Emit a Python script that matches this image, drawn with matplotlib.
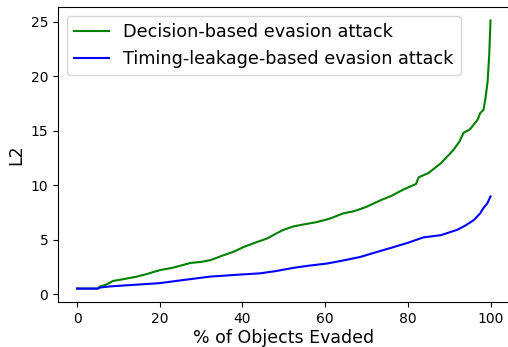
import numpy as np
import matplotlib
matplotlib.use("Agg")
import matplotlib.pyplot as plt

# percentage of objects evaded vs. L2 perturbation
decision_x = [0, 5, 5.6, 7, 8.7, 11, 14.5, 17, 20.1, 23, 25, 27.4, 30, 32.2, 35, 38, 40.2, 43, 46,
              48.4, 50, 52.3, 55, 58, 61, 64.4, 67, 70, 73.4, 76, 79, 82, 82.6, 85, 88, 90,
              91, 92.5, 93.5, 95, 96.9, 97.5, 98.3, 98.8, 99.3, 99.7, 100]
decision_l2 = [0.5, 0.5, 0.7, 0.85, 1.2, 1.35, 1.6, 1.85, 2.2, 2.4, 2.6, 2.85, 2.95, 3.1, 3.5, 3.9,
               4.3, 4.7, 5.1, 5.6, 5.9, 6.2, 6.4, 6.6, 6.9, 7.4, 7.6, 8.0, 8.6, 9.0, 9.6, 10.1,
               10.7, 11.1, 12.0, 12.8, 13.2, 14.0, 14.8, 15.1, 16.0, 16.6, 16.9, 18.0, 19.5, 22.0, 25.1]

timing_x = [0, 5, 5.6, 8, 12, 16, 20, 25, 32.2, 38, 44.3, 48, 52.3, 56, 60.5, 64, 68.5, 72,
            76.5, 80, 83.8, 88, 92, 94, 96, 97.5, 98.3, 99.2, 100]
timing_l2 = [0.5, 0.5, 0.6, 0.7, 0.8, 0.9, 1.0, 1.25, 1.6, 1.75, 1.9, 2.1, 2.4, 2.6, 2.8, 3.05,
             3.4, 3.8, 4.3, 4.7, 5.2, 5.4, 5.9, 6.3, 6.8, 7.4, 7.9, 8.3, 8.95]

fig, ax = plt.subplots(figsize=(5.08, 3.47), dpi=100)
fig.subplots_adjust(left=0.1142, right=1.003, top=0.9798, bottom=0.1297)

ax.plot(decision_x, decision_l2, color="green", linewidth=1.5, label="Decision-based evasion attack")
ax.plot(timing_x, timing_l2, color="blue", linewidth=1.5, label="Timing-leakage-based evasion attack")

ax.set_xlim(-4.6, 104.6)
ax.set_xlabel("% of Objects Evaded", fontsize=12.5, labelpad=2.5)
ax.set_ylabel("L2", fontsize=12.5)
ax.set_xticks([0, 20, 40, 60, 80, 100])
ax.set_yticks([0, 5, 10, 15, 20, 25])
ax.legend(loc="upper left", fontsize=12.7)

fig.savefig("out.png", dpi=100)
